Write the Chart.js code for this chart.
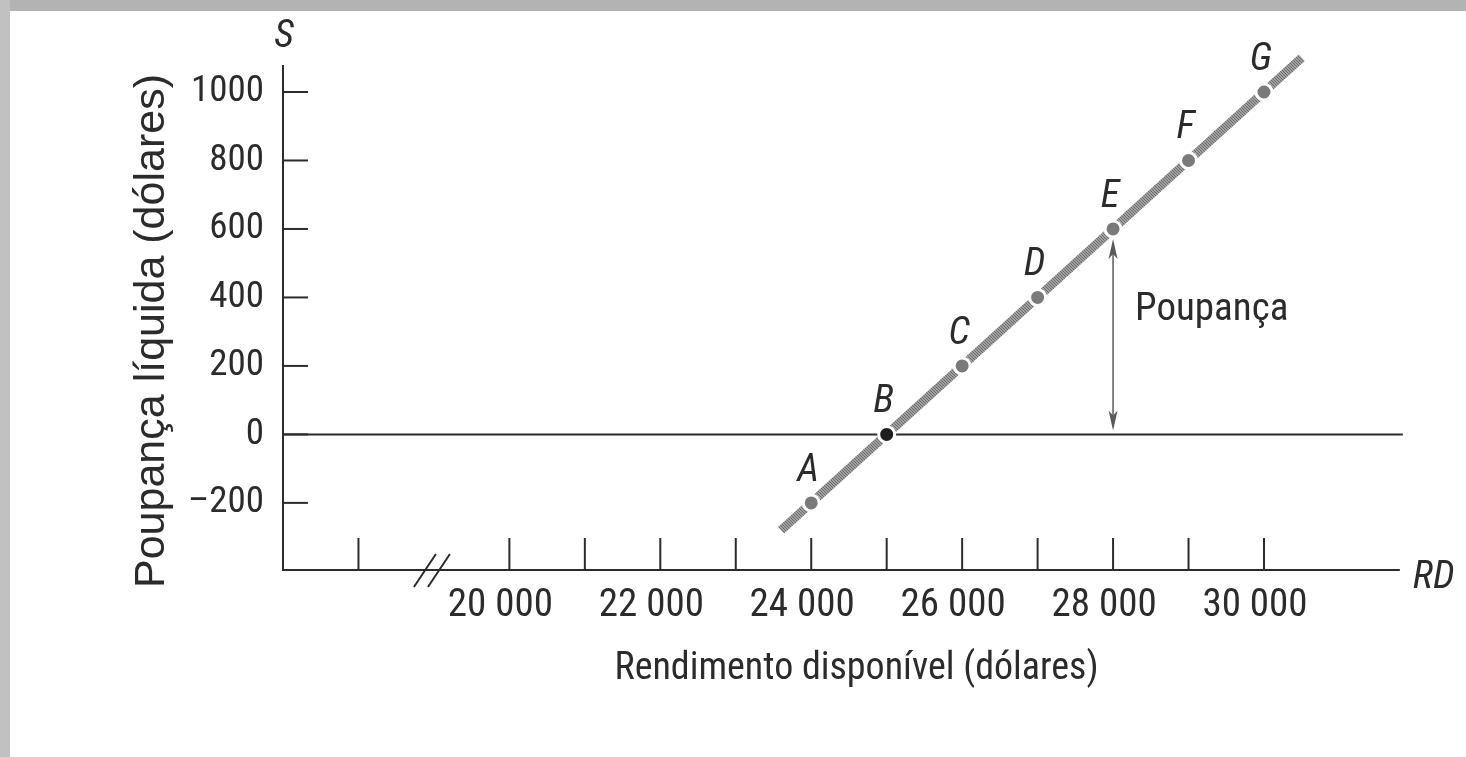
<!DOCTYPE html>
<html><head><meta charset="utf-8">
<script src="https://cdn.jsdelivr.net/npm/chart.js@4.4.1/dist/chart.umd.min.js"></script>
<style>
html,body{margin:0;padding:0;background:#fff;}
#wrap{position:relative;width:1466px;height:757px;overflow:hidden;background:#fff;}
canvas{position:absolute;left:0;top:0;}
.bar-top{position:absolute;left:0;top:0;width:1466px;height:11px;background:#b3b3b3;}
.bar-left{position:absolute;left:0;top:0;width:10px;height:757px;background:#c1c1c1;}
</style></head><body>
<div id="wrap"><canvas id="c" width="1466" height="757"></canvas><div class="bar-top"></div><div class="bar-left"></div></div>
<script>
// ---- data ----
const pointLabels   = ['A', 'B', 'C', 'D', 'E', 'F', 'G'];
const incomeValues  = [24000, 25000, 26000, 27000, 28000, 29000, 30000];
const savingValues  = [-200, 0, 200, 400, 600, 800, 1000];
const lineIncome    = [23600, 30500];
const lineSaving    = [-280, 1100];
const xTickValues   = [18000, 20000, 21000, 22000, 23000, 24000, 25000, 26000, 27000, 28000, 29000, 30000];
const xTickLabels   = ['', '20 000', '', '22 000', '', '24 000', '', '26 000', '', '28 000', '', '30 000'];
const yTickValues   = [-200, 0, 200, 400, 600, 800, 1000];
const yTickLabels   = ['\u2013200', '0', '200', '400', '600', '800', '1000'];
const arrowIncome   = 28000;
const arrowText     = 'Poupan\u00e7a';
const xTitle        = 'Rendimento dispon\u00edvel (d\u00f3lares)';
const yTitle        = 'Poupan\u00e7a l\u00edquida (d\u00f3lares)';
const yAxisName     = 'S';
const xAxisName     = 'RD';

const NARROW = "'Roboto Condensed', 'Liberation Sans', Arial, sans-serif";
const REGULAR = "'Liberation Sans', Arial, sans-serif";
const INK = '#2b2b2b';

// fine grey texture for the thick line
function hatch() {
  const p = document.createElement('canvas');
  p.width = 3; p.height = 3;
  const g = p.getContext('2d');
  g.fillStyle = '#a0a0a0';
  g.fillRect(0, 0, 3, 3);
  g.fillStyle = '#6c6c6c';
  for (let i = 0; i < 3; i++) g.fillRect(i, i, 1, 1);
  return p.getContext('2d').createPattern(p, 'repeat');
}

const decor = {
  id: 'decor',
  beforeDatasetsDraw(chart) {
    const {ctx, chartArea: a, scales: {x, y}} = chart;
    const axisEnd = x.getPixelForValue(31800);
    const zeroY = y.getPixelForValue(0);
    ctx.save();
    ctx.strokeStyle = INK;
    ctx.lineWidth = 2;
    ctx.lineCap = 'butt';
    ctx.beginPath(); ctx.moveTo(a.left, a.top - 27); ctx.lineTo(a.left, a.bottom + 1); ctx.stroke();
    ctx.beginPath(); ctx.moveTo(a.left - 1, a.bottom); ctx.lineTo(axisEnd, a.bottom); ctx.stroke();
    ctx.beginPath(); ctx.moveTo(a.left, zeroY); ctx.lineTo(axisEnd + 3, zeroY); ctx.stroke();
    yTickValues.forEach(v => {
      const py = y.getPixelForValue(v);
      ctx.beginPath(); ctx.moveTo(a.left, py); ctx.lineTo(a.left + 25, py); ctx.stroke();
    });
    xTickValues.forEach(v => {
      const px = x.getPixelForValue(v);
      ctx.beginPath(); ctx.moveTo(px, a.bottom); ctx.lineTo(px, a.bottom - 32); ctx.stroke();
    });
    const mid = (x.getPixelForValue(xTickValues[0]) + x.getPixelForValue(xTickValues[1])) / 2;
    [-9, 5].forEach(d => {
      ctx.beginPath();
      ctx.moveTo(mid + d - 11, a.bottom + 17);
      ctx.lineTo(mid + d + 11, a.bottom - 16);
      ctx.stroke();
    });
    const ax = x.getPixelForValue(arrowIncome);
    const top = y.getPixelForValue(savingValues[incomeValues.indexOf(arrowIncome)]) + 10;
    const bot = zeroY - 4;
    ctx.strokeStyle = '#5a5a5a';
    ctx.fillStyle = '#5a5a5a';
    ctx.lineWidth = 1.5;
    ctx.beginPath(); ctx.moveTo(ax, top + 4); ctx.lineTo(ax, bot - 4); ctx.stroke();
    ctx.beginPath(); ctx.moveTo(ax, top); ctx.lineTo(ax - 4.5, top + 20); ctx.lineTo(ax, top + 15); ctx.lineTo(ax + 4.5, top + 20); ctx.closePath(); ctx.fill();
    ctx.beginPath(); ctx.moveTo(ax, bot); ctx.lineTo(ax - 4.5, bot - 20); ctx.lineTo(ax, bot - 15); ctx.lineTo(ax + 4.5, bot - 20); ctx.closePath(); ctx.fill();
    ctx.restore();
  },
  afterDatasetsDraw(chart) {
    const {ctx, chartArea: a, scales: {x, y}} = chart;
    const meta = chart.getDatasetMeta(0);
    ctx.save();
    ctx.fillStyle = INK;
    ctx.textBaseline = 'alphabetic';
    ctx.font = 'italic 39px ' + NARROW;
    ctx.textAlign = 'center';
    meta.data.forEach((pt, i) => {
      ctx.fillText(pointLabels[i], pt.x - 3, pt.y - 22);
    });
    ctx.fillText(yAxisName, a.left + 1, a.top - 45);
    ctx.textAlign = 'left';
    ctx.fillText(xAxisName, x.getPixelForValue(31800) + 13, a.bottom + 18);
    const ax = x.getPixelForValue(arrowIncome);
    const midY = (y.getPixelForValue(0) + y.getPixelForValue(savingValues[incomeValues.indexOf(arrowIncome)])) / 2;
    ctx.font = '39px ' + NARROW;
    ctx.fillText(arrowText, ax + 22, midY - 12);
    ctx.restore();
  }
};

new Chart(document.getElementById('c'), {
  type: 'scatter',
  data: {
    datasets: [
      {
        label: 'pontos',
        data: incomeValues.map((v, i) => ({x: v, y: savingValues[i]})),
        showLine: false,
        pointRadius: 8,
        pointBackgroundColor: pointLabels.map(l => l === 'B' ? '#1e1e1e' : '#7a7a7a'),
        pointBorderColor: '#ffffff',
        pointBorderWidth: 3,
        clip: false
      },
      {
        label: 'poupança',
        data: lineIncome.map((v, i) => ({x: v, y: lineSaving[i]})),
        showLine: true,
        borderColor: hatch(),
        borderWidth: 9,
        borderCapStyle: 'butt',
        pointRadius: 0,
        clip: false
      }
    ]
  },
  options: {
    responsive: false,
    devicePixelRatio: 1,
    animation: false,
    events: [],
    layout: {padding: {top: 92, right: 36, bottom: 0, left: 0}},
    plugins: {legend: {display: false}, tooltip: {enabled: false}},
    scales: {
      x: {
        type: 'linear', position: 'bottom', min: 17000, max: 32200,
        grid: {display: false, drawTicks: false},
        border: {display: false},
        afterBuildTicks: s => { s.ticks = xTickValues.map(v => ({value: v})); },
        afterFit: s => { s.height = 187; },
        ticks: {
          autoSkip: false, maxRotation: 0, minRotation: 0,
          padding: 13, labelOffset: -9, color: INK,
          font: {family: NARROW, size: 39},
          callback: v => xTickLabels[xTickValues.indexOf(v)]
        },
        title: {display: true, text: xTitle, color: INK,
          font: {family: NARROW, size: 38}, padding: {top: 0, bottom: 65}}
      },
      y: {
        type: 'linear', position: 'left', min: -396, max: 1000,
        grid: {display: false, drawTicks: false},
        border: {display: false},
        afterBuildTicks: s => { s.ticks = yTickValues.map(v => ({value: v})); },
        afterFit: s => { s.width = 283; },
        ticks: {
          padding: 19, color: INK,
          font: {family: NARROW, size: 37},
          callback: v => yTickLabels[yTickValues.indexOf(v)]
        },
        title: {display: true, text: yTitle, color: INK,
          font: {family: REGULAR, size: 43}, padding: {top: 126, bottom: 0}}
      }
    }
  },
  plugins: [decor]
});
</script>
</body></html>
